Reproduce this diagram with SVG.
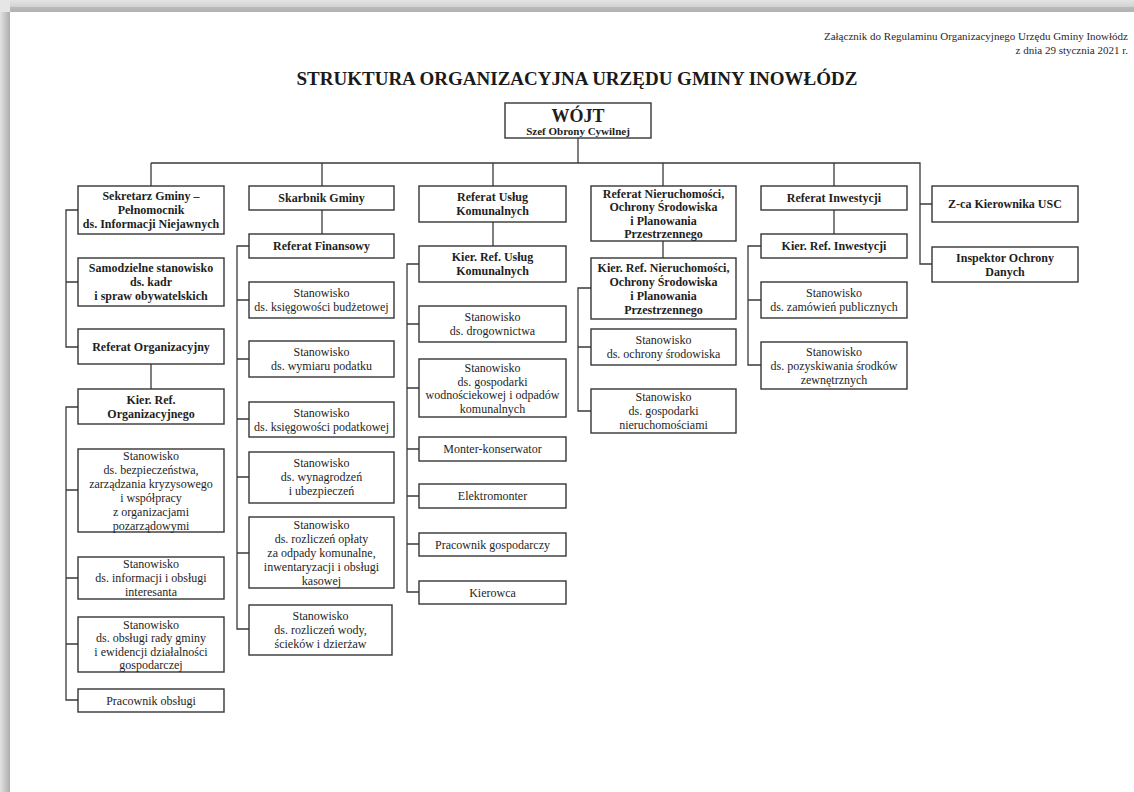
<svg xmlns="http://www.w3.org/2000/svg" width="1134" height="792" viewBox="0 0 1134 792">
<defs>
<linearGradient id="gTop" x1="0" y1="0" x2="0" y2="1">
<stop offset="0" stop-color="#e4e4e4"/><stop offset="0.55" stop-color="#d2d2d2"/><stop offset="0.6" stop-color="#bababa"/><stop offset="1" stop-color="#b2b2b2"/>
</linearGradient>
<linearGradient id="gLeft" x1="0" y1="0" x2="1" y2="0">
<stop offset="0" stop-color="#e2e2e2"/><stop offset="0.35" stop-color="#d0d0d0"/><stop offset="0.7" stop-color="#bdbdbd"/><stop offset="1" stop-color="#aeaeae"/>
</linearGradient>
<style>
.box{fill:#fff;stroke:#353535;stroke-width:1.4}
.t{font-family:"Liberation Serif","Times New Roman",serif;font-size:12px;text-anchor:middle;fill:#1e1e1e}
.b{font-weight:bold}
.big{font-size:18px}
.sub{font-size:11px}
.conn path{stroke:#3a3a3a;stroke-width:1.3;fill:none}
.hdr{font-family:"Liberation Serif","Times New Roman",serif;font-size:11px;text-anchor:end;fill:#2a2a2a}
.title{font-family:"Liberation Serif","Times New Roman",serif;font-size:19px;font-weight:bold;text-anchor:middle;fill:#1a1a1a}
</style>
</defs>
<rect x="0" y="0" width="1134" height="792" fill="#fff"/>
<rect x="0" y="0" width="1134" height="12" fill="url(#gTop)"/>
<rect x="0" y="0" width="10" height="792" fill="url(#gLeft)"/>
<rect x="0" y="0" width="10" height="12" fill="#e6e6e6"/>

<g id="header">
<text class="hdr" x="1128" y="40">Załącznik do Regulaminu Organizacyjnego Urzędu Gminy Inowłódz</text>
<text class="hdr" x="1128" y="54">z dnia 29 stycznia 2021 r.</text>
<text class="title" x="577" y="85">STRUKTURA ORGANIZACYJNA URZĘDU GMINY INOWŁÓDZ</text>
</g>

<g class="conn" id="connectors">
<path d="M578 138V163"/>
<path d="M151 163H920V264H932M920 204H932"/>
<path d="M151 163V186M322 163V186M493 163V186M663 163V186M834 163V186"/>
<path d="M78 210H66V347H78M66 282H78"/>
<path d="M151 364V389"/>
<path d="M78 407H66V700H78M66 490H78M66 578H78M66 644H78"/>
<path d="M322 210V234"/>
<path d="M249 246H237V629H249M237 300H249M237 359H249M237 419H249M237 477H249M237 553H249"/>
<path d="M493 222V246"/>
<path d="M419 264H407V592H419M407 324H419M407 388H419M407 449H419M407 496H419M407 544H419"/>
<path d="M663 241V258"/>
<path d="M591 288H578V411H591M578 347H591"/>
<path d="M834 210V234"/>
<path d="M761 246H748V365H761M748 300H761"/>
</g>

<g id="wojt">
<rect class="box" x="505" y="103" width="146" height="35"/>
<text class="t b big" x="578" y="122">WÓJT</text>
<text class="t b sub" x="578" y="135">Szef Obrony Cywilnej</text>
</g>

<g id="sekretarz">
<rect class="box" x="78" y="186" width="146" height="48"/>
<text class="t b"><tspan x="151" y="200">Sekretarz Gminy –</tspan><tspan x="151" y="214">Pełnomocnik</tspan><tspan x="151" y="228">ds. Informacji Niejawnych</tspan></text>
</g>
<g id="samodzielne">
<rect class="box" x="78" y="258" width="146" height="48"/>
<text class="t b"><tspan x="151" y="272">Samodzielne stanowisko</tspan><tspan x="151" y="286">ds. kadr</tspan><tspan x="151" y="300">i spraw obywatelskich</tspan></text>
</g>
<g id="ref-org">
<rect class="box" x="78" y="329" width="146" height="35"/>
<text class="t b" x="151" y="350.5">Referat Organizacyjny</text>
</g>
<g id="kier-org">
<rect class="box" x="78" y="389" width="146" height="35"/>
<text class="t b"><tspan x="151" y="403.5">Kier. Ref.</tspan><tspan x="151" y="417.5">Organizacyjnego</tspan></text>
</g>
<g id="st-bezp">
<rect class="box" x="78" y="449" width="146" height="83"/>
<text class="t"><tspan x="151" y="459.5">Stanowisko</tspan><tspan x="151" y="473.5">ds. bezpieczeństwa,</tspan><tspan x="151" y="487.5">zarządzania kryzysowego</tspan><tspan x="151" y="501.5">i współpracy</tspan><tspan x="151" y="515.5">z organizacjami</tspan><tspan x="151" y="529.5">pozarządowymi</tspan></text>
</g>
<g id="st-info">
<rect class="box" x="78" y="557" width="146" height="42"/>
<text class="t"><tspan x="151" y="568">Stanowisko</tspan><tspan x="151" y="582">ds. informacji i obsługi</tspan><tspan x="151" y="596">interesanta</tspan></text>
</g>
<g id="st-rady">
<rect class="box" x="78" y="617" width="146" height="55"/>
<text class="t"><tspan x="151" y="628.5">Stanowisko</tspan><tspan x="151" y="642">ds. obsługi rady gminy</tspan><tspan x="151" y="655.5">i ewidencji działalności</tspan><tspan x="151" y="669">gospodarczej</tspan></text>
</g>
<g id="prac-obsl">
<rect class="box" x="78" y="689" width="146" height="23"/>
<text class="t" x="151" y="704.5">Pracownik obsługi</text>
</g>

<g id="skarbnik">
<rect class="box" x="249" y="186" width="145" height="24"/>
<text class="t b" x="321.5" y="202">Skarbnik Gminy</text>
</g>
<g id="ref-fin">
<rect class="box" x="249" y="234" width="145" height="24"/>
<text class="t b" x="321.5" y="250">Referat Finansowy</text>
</g>
<g id="st-budz">
<rect class="box" x="249" y="282" width="145" height="36"/>
<text class="t"><tspan x="321.5" y="297">Stanowisko</tspan><tspan x="321.5" y="311">ds. księgowości budżetowej</tspan></text>
</g>
<g id="st-wymiar">
<rect class="box" x="249" y="341" width="145" height="36"/>
<text class="t"><tspan x="321.5" y="356">Stanowisko</tspan><tspan x="321.5" y="370">ds. wymiaru podatku</tspan></text>
</g>
<g id="st-podat">
<rect class="box" x="249" y="402" width="145" height="35"/>
<text class="t"><tspan x="321.5" y="416.5">Stanowisko</tspan><tspan x="321.5" y="430.5">ds. księgowości podatkowej</tspan></text>
</g>
<g id="st-wynagr">
<rect class="box" x="249" y="452" width="145" height="51"/>
<text class="t"><tspan x="321.5" y="467">Stanowisko</tspan><tspan x="321.5" y="481">ds. wynagrodzeń</tspan><tspan x="321.5" y="495">i ubezpieczeń</tspan></text>
</g>
<g id="st-oplaty">
<rect class="box" x="249" y="517" width="145" height="71"/>
<text class="t"><tspan x="321.5" y="528.5">Stanowisko</tspan><tspan x="321.5" y="542.5">ds. rozliczeń opłaty</tspan><tspan x="321.5" y="556.5">za odpady komunalne,</tspan><tspan x="321.5" y="570.5">inwentaryzacji i obsługi</tspan><tspan x="321.5" y="584.5">kasowej</tspan></text>
</g>
<g id="st-wody">
<rect class="box" x="249" y="605" width="143" height="50"/>
<text class="t"><tspan x="320.5" y="620">Stanowisko</tspan><tspan x="320.5" y="634">ds. rozliczeń wody,</tspan><tspan x="320.5" y="648">ścieków i dzierżaw</tspan></text>
</g>

<g id="ref-uslug">
<rect class="box" x="419" y="186" width="147" height="36"/>
<text class="t b"><tspan x="492.5" y="201">Referat Usług</tspan><tspan x="492.5" y="215">Komunalnych</tspan></text>
</g>
<g id="kier-uslug">
<rect class="box" x="419" y="246" width="147" height="36"/>
<text class="t b"><tspan x="492.5" y="261">Kier. Ref. Usług</tspan><tspan x="492.5" y="275">Komunalnych</tspan></text>
</g>
<g id="st-drog">
<rect class="box" x="419" y="306" width="147" height="36"/>
<text class="t"><tspan x="492.5" y="321">Stanowisko</tspan><tspan x="492.5" y="335">ds. drogownictwa</tspan></text>
</g>
<g id="st-wod">
<rect class="box" x="419" y="359" width="147" height="58"/>
<text class="t"><tspan x="492.5" y="372">Stanowisko</tspan><tspan x="492.5" y="385.5">ds. gospodarki</tspan><tspan x="492.5" y="399">wodnościekowej i odpadów</tspan><tspan x="492.5" y="412.5">komunalnych</tspan></text>
</g>
<g id="monter">
<rect class="box" x="419" y="437" width="147" height="24"/>
<text class="t" x="492.5" y="453">Monter-konserwator</text>
</g>
<g id="elektromonter">
<rect class="box" x="419" y="484" width="147" height="24"/>
<text class="t" x="492.5" y="500">Elektromonter</text>
</g>
<g id="prac-gosp">
<rect class="box" x="419" y="533" width="147" height="23"/>
<text class="t" x="492.5" y="548.5">Pracownik gospodarczy</text>
</g>
<g id="kierowca">
<rect class="box" x="419" y="581" width="147" height="23"/>
<text class="t" x="492.5" y="596.5">Kierowca</text>
</g>

<g id="ref-nier">
<rect class="box" x="591" y="186" width="145" height="55"/>
<text class="t b"><tspan x="663.5" y="197.5">Referat Nieruchomości,</tspan><tspan x="663.5" y="211">Ochrony Środowiska</tspan><tspan x="663.5" y="224.5">i Planowania</tspan><tspan x="663.5" y="238">Przestrzennego</tspan></text>
</g>
<g id="kier-nier">
<rect class="box" x="591" y="258" width="145" height="61"/>
<text class="t b"><tspan x="663.5" y="271.5">Kier. Ref. Nieruchomości,</tspan><tspan x="663.5" y="285.5">Ochrony Środowiska</tspan><tspan x="663.5" y="299.5">i Planowania</tspan><tspan x="663.5" y="313.5">Przestrzennego</tspan></text>
</g>
<g id="st-ochr">
<rect class="box" x="591" y="329" width="145" height="36"/>
<text class="t"><tspan x="663.5" y="344">Stanowisko</tspan><tspan x="663.5" y="358">ds. ochrony środowiska</tspan></text>
</g>
<g id="st-nier">
<rect class="box" x="591" y="389" width="145" height="44"/>
<text class="t"><tspan x="663.5" y="401">Stanowisko</tspan><tspan x="663.5" y="415">ds. gospodarki</tspan><tspan x="663.5" y="429">nieruchomościami</tspan></text>
</g>

<g id="ref-inw">
<rect class="box" x="761" y="186" width="146" height="24"/>
<text class="t b" x="834" y="202">Referat Inwestycji</text>
</g>
<g id="kier-inw">
<rect class="box" x="761" y="234" width="146" height="24"/>
<text class="t b" x="834" y="250">Kier. Ref. Inwestycji</text>
</g>
<g id="st-zam">
<rect class="box" x="761" y="282" width="146" height="36"/>
<text class="t"><tspan x="834" y="297">Stanowisko</tspan><tspan x="834" y="311">ds. zamówień publicznych</tspan></text>
</g>
<g id="st-pozysk">
<rect class="box" x="761" y="342" width="146" height="47"/>
<text class="t"><tspan x="834" y="355.5">Stanowisko</tspan><tspan x="834" y="369.5">ds. pozyskiwania środków</tspan><tspan x="834" y="383.5">zewnętrznych</tspan></text>
</g>

<g id="zca-usc">
<rect class="box" x="932" y="186" width="146" height="36"/>
<text class="t b" x="1005" y="208">Z-ca Kierownika USC</text>
</g>
<g id="iod">
<rect class="box" x="932" y="247" width="146" height="35"/>
<text class="t b"><tspan x="1005" y="261.5">Inspektor Ochrony</tspan><tspan x="1005" y="275.5">Danych</tspan></text>
</g>
</svg>
